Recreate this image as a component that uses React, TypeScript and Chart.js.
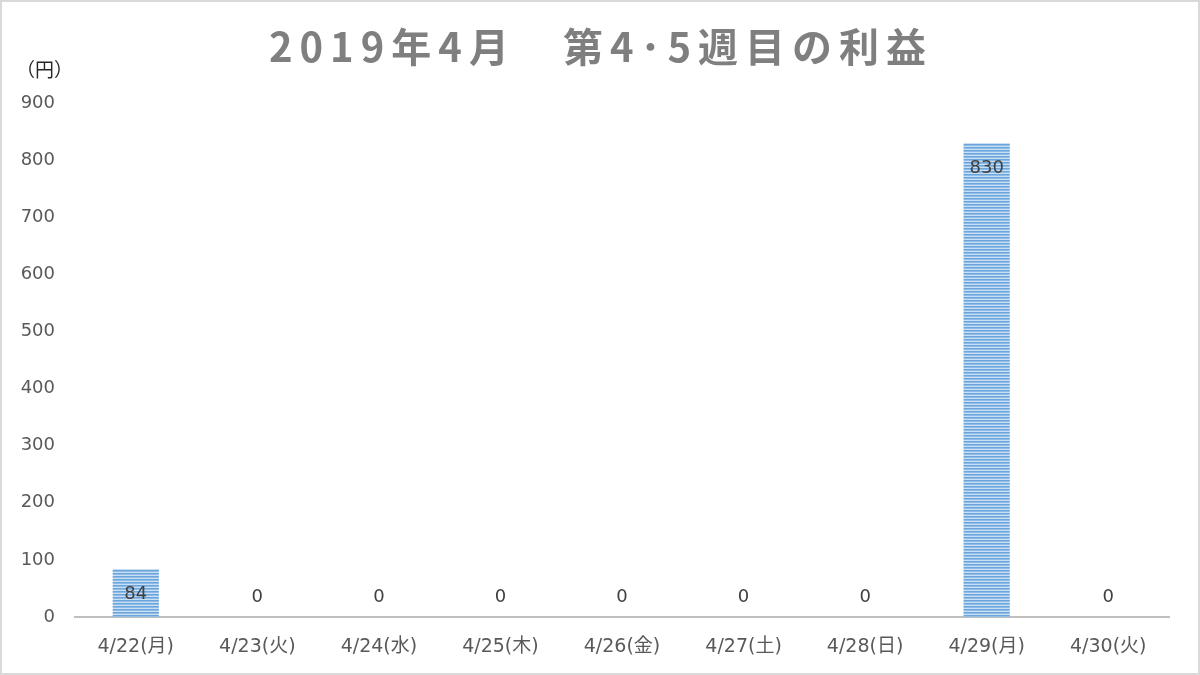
import React, { useEffect, useRef } from 'react';
import Chart from 'chart.js/auto';

const chartTitle = '2019年4月　第4･5週目の利益';
const unitLabel = '（円）';
const categories = ['4/22(月)', '4/23(火)', '4/24(水)', '4/25(木)', '4/26(金)', '4/27(土)', '4/28(日)', '4/29(月)', '4/30(火)'];
const profits = [84, 0, 0, 0, 0, 0, 0, 830, 0];
const yMin = 0;
const yMax = 900;
const yStep = 100;

const FONT = '"DejaVu Sans", "Noto Sans CJK JP", sans-serif';
const JP_FONT = '"Noto Sans CJK JP", "DejaVu Sans", sans-serif';

// horizontal stripe fill like the Excel pattern
const makeStripes = (): CanvasPattern | string => {
  const c = document.createElement('canvas');
  c.width = 4;
  c.height = 3;
  const g = c.getContext('2d');
  if (!g) return '#7aaee0';
  g.fillStyle = '#c9dff4';
  g.fillRect(0, 0, 4, 3);
  g.fillStyle = '#6aa5db';
  g.fillRect(0, 0, 4, 1);
  g.fillStyle = '#8fbbe6';
  g.fillRect(0, 1, 4, 1);
  const p = g.createPattern(c, 'repeat');
  return p || '#7aaee0';
};

const App: React.FC = () => {
  const canvasRef = useRef<HTMLCanvasElement>(null);

  useEffect(() => {
    const ctx = canvasRef.current?.getContext('2d');
    if (!ctx) return;

    const decorPlugin = {
      id: 'decor',
      afterDraw(chart: any) {
        const { ctx } = chart;
        ctx.save();
        // title
        ctx.font = `bold 40px ${JP_FONT}`;
        ctx.fillStyle = '#7f7f7f';
        ctx.textAlign = 'center';
        ctx.textBaseline = 'middle';
        (ctx as any).letterSpacing = '7px';
        ctx.fillText(chartTitle, 601, 47);
        (ctx as any).letterSpacing = '0px';
        // unit
        ctx.font = `19px ${JP_FONT}`;
        ctx.fillStyle = '#262626';
        ctx.textAlign = 'left';
        ctx.fillText(unitLabel, 16, 70);
        // frame
        ctx.strokeStyle = '#d9d9d9';
        ctx.lineWidth = 2;
        ctx.strokeRect(1, 1, 1198, 673);
        ctx.restore();
      },
    };

    const valuesPlugin = {
      id: 'values',
      afterDatasetsDraw(chart: any) {
        const { ctx, data, scales } = chart;
        const base = scales.y.getPixelForValue(0);
        ctx.save();
        ctx.font = `18px ${FONT}`;
        ctx.fillStyle = '#404040';
        ctx.textAlign = 'center';
        ctx.textBaseline = 'middle';
        chart.getDatasetMeta(0).data.forEach((bar: any, i: number) => {
          const y = Math.min(bar.y + 25, base - 20);
          ctx.fillText(String(data.datasets[0].data[i]), bar.x, y);
        });
        ctx.restore();
      },
    };

    const chart = new Chart(ctx, {
      type: 'bar',
      data: {
        labels: categories,
        datasets: [
          {
            label: '利益',
            data: profits,
            backgroundColor: makeStripes() as any,
            borderWidth: 0,
            barPercentage: 0.38,
            categoryPercentage: 1,
          },
        ],
      },
      plugins: [valuesPlugin, decorPlugin],
      options: {
        animation: false,
        responsive: false,
        maintainAspectRatio: false,
        layout: { padding: { top: 103, right: 31, bottom: 8, left: 0 } },
        plugins: {
          legend: { display: false },
          tooltip: { enabled: false },
          title: { display: false },
        },
        scales: {
          x: {
            grid: { display: false },
            border: { color: '#bfbfbf', width: 2 },
            ticks: {
              color: '#595959',
              padding: 11,
              maxRotation: 0,
              font: { family: FONT, size: 19 },
            },
            afterFit: (s: any) => {
              s.height = 50;
            },
          },
          y: {
            min: yMin,
            max: yMax,
            grid: { display: false },
            border: { display: false },
            ticks: {
              stepSize: yStep,
              color: '#595959',
              padding: 12,
              font: { family: FONT, size: 18 },
            },
            afterFit: (s: any) => {
              s.width = 75;
            },
          },
        },
      },
    });

    return () => chart.destroy();
  }, []);

  return (
    <div style={{ position: 'fixed', left: 0, top: 0, width: 1200, height: 675, background: '#ffffff' }}>
      <canvas ref={canvasRef} width={1200} height={675} style={{ width: 1200, height: 675, display: 'block' }} />
    </div>
  );
};

export default App;
